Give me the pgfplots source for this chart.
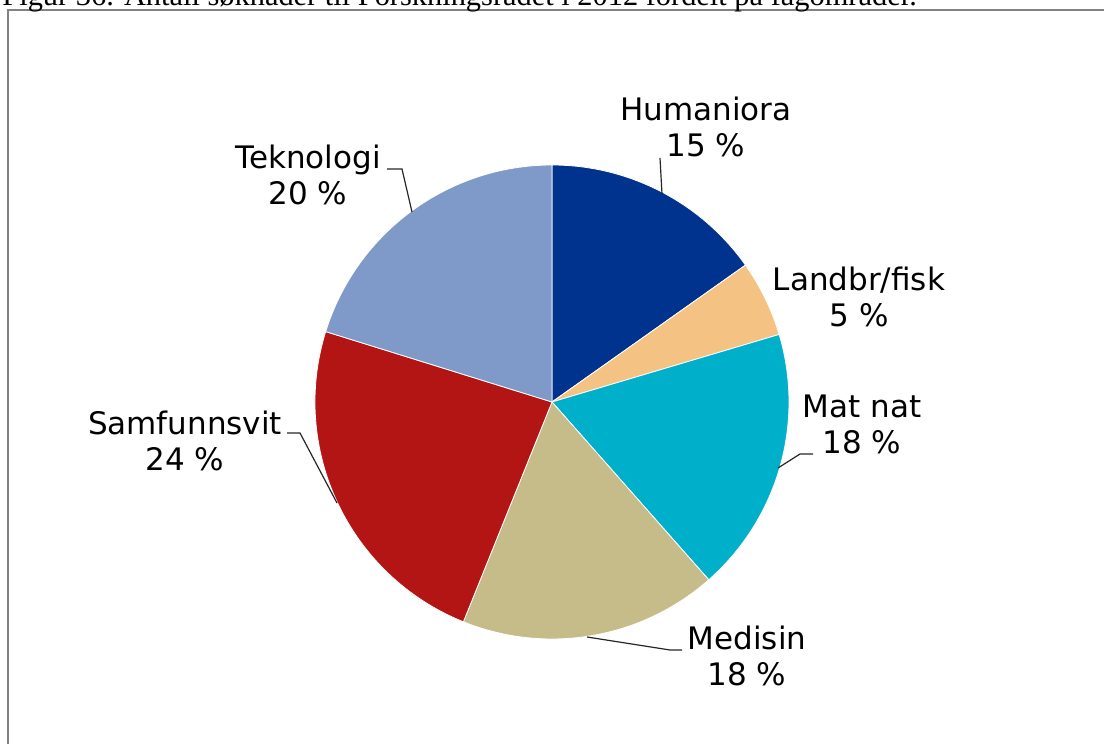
\documentclass[border=0pt]{standalone}
\usepackage{pgfplots}
\pgfplotsset{compat=1.18}
\usepackage{pgfplotstable}
\usepackage{fontspec}
\setmainfont{DejaVu Sans}
\newfontfamily\capfont{Liberation Serif}

\definecolor{hum}{RGB}{0,51,141}
\definecolor{landbr}{RGB}{244,194,131}
\definecolor{matnat}{RGB}{0,176,202}
\definecolor{medisin}{RGB}{198,188,137}
\definecolor{samf}{RGB}{179,20,20}
\definecolor{tek}{RGB}{127,154,200}
\definecolor{frame}{RGB}{130,130,130}

% share of applications, percent, clockwise from 12 o'clock
\pgfplotstableread[col sep=comma]{
name,value,color
Humaniora,15.2,hum
Landbr/fisk,5.2,landbr
Mat nat,18.1,matnat
Medisin,17.6,medisin
Samfunnsvit,23.7,samf
Teknologi,20.2,tek
}\fagdata

\begin{document}
\begin{tikzpicture}[
    lab/.style={font=\fontsize{15.5}{18}\selectfont, align=center, text=black},
    lead/.style={black!85, line width=0.6pt}
  ]
  \path[use as bounding box] (0,0) rectangle (552pt,372pt);
  \clip (0,0) rectangle (552pt,372pt);
  \begin{axis}[
      hide axis,
      x=0.5pt, y=0.5pt,
      xmin=0, xmax=1104, ymin=0, ymax=744,
      anchor=origin, at={(0,0)},
      clip=false
    ]
    % pie slices
    \pgfplotsextra{%
      \gdef\curang{90}%
      \pgfplotsforeachungrouped \i in {0,...,5}{%
        \pgfplotstablegetelem{\i}{value}\of\fagdata
        \pgfmathsetmacro\endang{\curang-3.6*\pgfplotsretval}%
        \pgfplotstablegetelem{\i}{color}\of\fagdata
        \edef\temp{\noexpand\fill[\pgfplotsretval, draw=white, line width=0.4pt]
          (axis cs:552,342) -- ++(\curang:118.5pt)
          arc[start angle=\curang, end angle=\endang, radius=118.5pt] -- cycle;}%
        \temp
        \global\let\curang\endang
      }%
    }

    % frame and cut caption
    \draw[frame, line width=0.9pt] (axis cs:8,-20) -- (axis cs:8,734) -- (axis cs:1120,734);
    \node[anchor=base west, font=\capfont\fontsize{15.2}{18}\selectfont, inner sep=0pt]
      at (axis cs:2,738) {Figur 36. Antall søknader til Forskningsrådet i 2012 fordelt på fagområder.};

    % leader lines
    \draw[lead] (axis cs:660,586) -- (axis cs:662,550);
    \draw[lead] (axis cs:387,575) -- (axis cs:402,575) -- (axis cs:412,532);
    \draw[lead] (axis cs:813,290) -- (axis cs:800,290) -- (axis cs:778,276);
    \draw[lead] (axis cs:682,94) -- (axis cs:670,94) -- (axis cs:587,107);
    \draw[lead] (axis cs:287,311) -- (axis cs:300,311) -- (axis cs:337,241);

    % labels
    \node[lab] at (axis cs:706,617) {Humaniora\\15 \%};
    \node[lab] at (axis cs:859,447) {Landbr/fisk\\5 \%};
    \node[lab] at (axis cs:862,320) {Mat nat\\18 \%};
    \node[lab] at (axis cs:747,88) {Medisin\\18 \%};
    \node[lab] at (axis cs:185,303) {Samfunnsvit\\24 \%};
    \node[lab] at (axis cs:308,569) {Teknologi\\20 \%};
  \end{axis}
\end{tikzpicture}
\end{document}
